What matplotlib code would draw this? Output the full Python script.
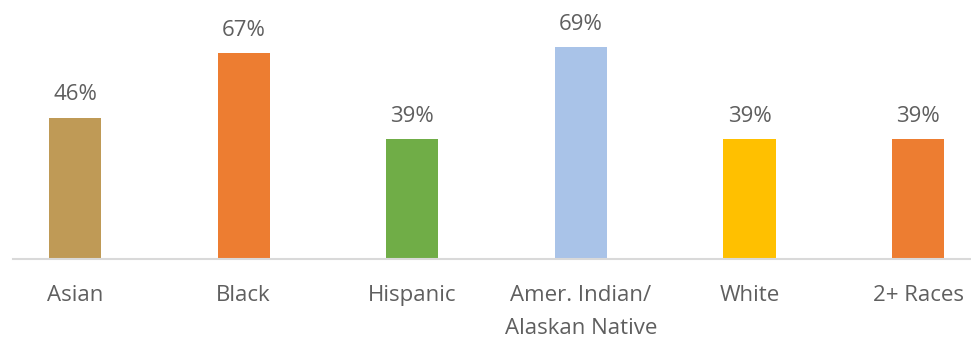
import matplotlib
matplotlib.use("Agg")
import matplotlib.pyplot as plt

categories = ["Asian", "Black", "Hispanic", "Amer. Indian/\nAlaskan Native", "White", "2+ Races"]
values = [46, 67, 39, 69, 39, 39]
colors = ["#BF9A56", "#ED7D31", "#70AD47", "#A9C3E8", "#FFC000", "#ED7D31"]

plt.rcParams["font.family"] = ["Open Sans", "DejaVu Sans"]

fig = plt.figure(figsize=(9.71, 3.38), dpi=100)
ax = fig.add_axes([13 / 971, 0.2337, 958 / 971, 0.7266])

x = list(range(len(categories)))
bars = ax.bar(x, values, width=0.31, color=colors)

for xi, v in zip(x, values):
    ax.annotate(f"{v}%", (xi, v), xytext=(0, 9), textcoords="offset points",
                ha="center", va="bottom", fontsize=16, color="#5f5f5f")

ax.set_xlim(-0.368, 5.314)
ax.set_ylim(0, 80)
ax.set_xticks(x)
ax.set_xticklabels(categories, fontsize=16, color="#5f5f5f", linespacing=1.75)
ax.tick_params(axis="x", length=0, pad=18.5)
ax.set_yticks([])
for side in ["top", "right", "left"]:
    ax.spines[side].set_visible(False)
ax.spines["bottom"].set_color("#D9D9D9")
ax.spines["bottom"].set_linewidth(1.5)

fig.savefig("out.png", dpi=100)
